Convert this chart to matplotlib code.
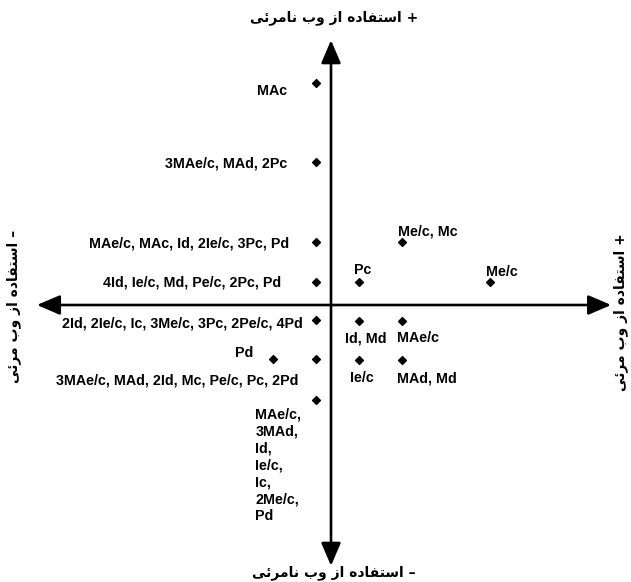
import matplotlib
matplotlib.use("Agg")
import matplotlib.pyplot as plt
from matplotlib.patches import FancyArrowPatch

# ---------------- data ----------------
point_x = [-0.34, -0.34, -0.34, -0.34, -0.34, -1.33, -0.34, -0.34,
           1.63, 0.64, 3.66, 0.64, 1.63, 0.64, 1.63]
point_y = [5.55, 3.58, 1.58, 0.58, -0.38, -1.36, -1.36, -2.38,
           1.58, 0.58, 0.58, -0.40, -0.40, -1.38, -1.38]
point_labels = [
    "MAc",
    "3MAe/c, MAd, 2Pc",
    "MAe/c, MAc, Id, 2Ie/c, 3Pc, Pd",
    "4Id, Ie/c, Md, Pe/c, 2Pc, Pd",
    "2Id, 2Ie/c, Ic, 3Me/c, 3Pc, 2Pe/c, 4Pd",
    "Pd",
    "3MAe/c, MAd, 2Id, Mc, Pe/c, Pc, 2Pd",
    "MAe/c,\n3MAd,\nId,\nIe/c,\nIc,\n2Me/c,\nPd",
    "Me/c, Mc",
    "Pc",
    "Me/c",
    "Id, Md",
    "MAe/c",
    "Ie/c",
    "MAd, Md",
]
axis_top = "+ استفاده از وب نامرئی"
axis_bottom = "– استفاده از وب نامرئی"
axis_left = "– استفاده از وب مرئی"
axis_right = "+ استفاده از وب مرئی"

# ---------------- layout (label offsets in pixels) ----------------
label_dx = [-29, -29, -27, -35, -13, -20, -18, -61, -4, -5, -4, -14, -5, -9, -5]
label_dy = [-8, -2, -2, -1, -3, 6, -21, -7, 10, 12, 10, -17, -17, -18, -18]
label_ha = ["right"] * 7 + ["left"] * 8
label_va = ["center"] * 7 + ["top"] + ["center"] * 7

# --------------- simple Persian shaping ---------------
FORMS = {
    'ا': (0xFE8D, 0xFE8E, None, None),
    'ب': (0xFE8F, 0xFE90, 0xFE91, 0xFE92),
    'ت': (0xFE95, 0xFE96, 0xFE97, 0xFE98),
    'د': (0xFEA9, 0xFEAA, None, None),
    'ر': (0xFEAD, 0xFEAE, None, None),
    'ز': (0xFEAF, 0xFEB0, None, None),
    'س': (0xFEB1, 0xFEB2, 0xFEB3, 0xFEB4),
    'ف': (0xFED1, 0xFED2, 0xFED3, 0xFED4),
    'م': (0xFEE1, 0xFEE2, 0xFEE3, 0xFEE4),
    'ن': (0xFEE5, 0xFEE6, 0xFEE7, 0xFEE8),
    'ه': (0xFEE9, 0xFEEA, 0xFEEB, 0xFEEC),
    'و': (0xFEED, 0xFEEE, None, None),
    'ئ': (0xFE89, 0xFE8A, 0xFE8B, 0xFE8C),
    'ی': (0xFBFC, 0xFBFD, 0xFBFE, 0xFBFF),
}


def dual(c):
    return c in FORMS and FORMS[c][2] is not None


def shape(s):
    out = []
    for i, ch in enumerate(s):
        if ch not in FORMS:
            out.append(ch)
            continue
        prev = s[i - 1] if i > 0 else ''
        nxt = s[i + 1] if i + 1 < len(s) else ''
        jp = dual(prev)
        jn = dual(ch) and nxt in FORMS
        iso, fin, ini, med = FORMS[ch]
        if jp and jn:
            f = med
        elif jp:
            f = fin
        elif jn:
            f = ini
        else:
            f = iso
        out.append(chr(f))
    return ''.join(reversed(out))


# ---------------- figure ----------------
W, H = 631, 582
fig = plt.figure(figsize=(W / 100, H / 100), dpi=100)
ax = fig.add_axes([0, 0, 1, 1])
ax.set_xlim(-331 / 43.5, (W - 331) / 43.5)
ax.set_ylim(-(H - 305) / 40, 305 / 40)
ax.axis("off")

arrow_kw = dict(arrowstyle="<|-|>,head_length=14,head_width=6",
                mutation_scale=1, lw=1.9, color="black",
                shrinkA=0, shrinkB=0)
ax.add_patch(FancyArrowPatch((-6.76, 0), (6.44, 0), **arrow_kw))
ax.add_patch(FancyArrowPatch((0, 6.62), (0, -6.52), **arrow_kw))

ax.scatter(point_x, point_y, marker="D", s=16, color="black", zorder=3)

latin = ["Liberation Sans", "DejaVu Sans"]
for x, y, lab, dx, dy, ha, va in zip(point_x, point_y, point_labels,
                                     label_dx, label_dy, label_ha, label_va):
    ax.annotate(lab, (x, y), xytext=(dx, dy), textcoords="offset pixels",
                ha=ha, va=va, fontsize=10.3, fontweight="bold",
                family=latin, linespacing=1.27)

pers = dict(family=["DejaVu Sans"], fontweight="bold", fontsize=10)
fig.text(334 / W, 1 - 18 / H, shape(axis_top), ha="center", va="center", **pers)
fig.text(334 / W, 1 - 573 / H, shape(axis_bottom), ha="center", va="center", **pers)
fig.text(14 / W, 1 - 306 / H, shape(axis_left), ha="center", va="center",
         rotation=90, **pers)
fig.text(621 / W, 1 - 312 / H, shape(axis_right), ha="center", va="center",
         rotation=90, **pers)

fig.savefig("out.png", dpi=100)
